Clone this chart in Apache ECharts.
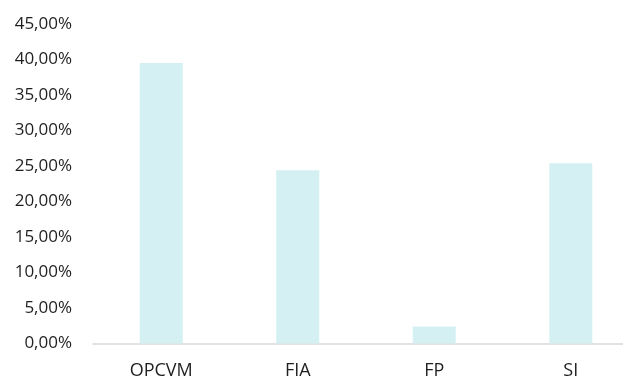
<!DOCTYPE html>
<html>
<head>
<meta charset="utf-8">
<script src="https://cdn.jsdelivr.net/npm/echarts@6/dist/echarts.min.js"></script>
<style>
  html, body { margin: 0; padding: 0; background: #ffffff; }
  #chart { width: 623px; height: 379px; }
</style>
</head>
<body>
<div id="chart"></div>
<script>
// Fund categories and their shares
const categories = ['OPCVM', 'FIA', 'FP', 'SI'];
const shares = [0.395, 0.244, 0.024, 0.254];

// Y axis range and step (fractions, shown as percentages)
const yMin = 0;
const yMax = 0.45;
const yStep = 0.05;

function formatPercent(v) {
  return (v * 100).toFixed(2).replace('.', ',') + '%';
}

const chart = echarts.init(document.getElementById('chart'), null, { renderer: 'canvas' });

chart.setOption({
  animation: false,
  backgroundColor: '#ffffff',
  grid: {
    left: 93, top: 24, right: -16, bottom: 35.5,
    containLabel: false,
    outerBoundsMode: 'none'
  },
  xAxis: {
    type: 'category',
    data: categories,
    axisLine: { show: true, lineStyle: { color: '#d9d9d9', width: 1.5 } },
    axisTick: { show: false },
    axisLabel: {
      color: '#1f1f1f',
      fontFamily: 'Open Sans',
      fontSize: 18,
      margin: 18
    },
    splitLine: { show: false }
  },
  yAxis: {
    type: 'value',
    min: yMin,
    max: yMax,
    interval: yStep,
    axisLine: { show: false },
    axisTick: { show: false },
    splitLine: { show: false },
    axisLabel: {
      color: '#1f1f1f',
      fontFamily: 'Open Sans',
      fontSize: 17,
      margin: 21,
      formatter: formatPercent
    }
  },
  series: [{
    type: 'bar',
    data: shares,
    barWidth: 43,
    itemStyle: { color: '#d4f0f2' }
  }]
});
</script>
</body>
</html>
